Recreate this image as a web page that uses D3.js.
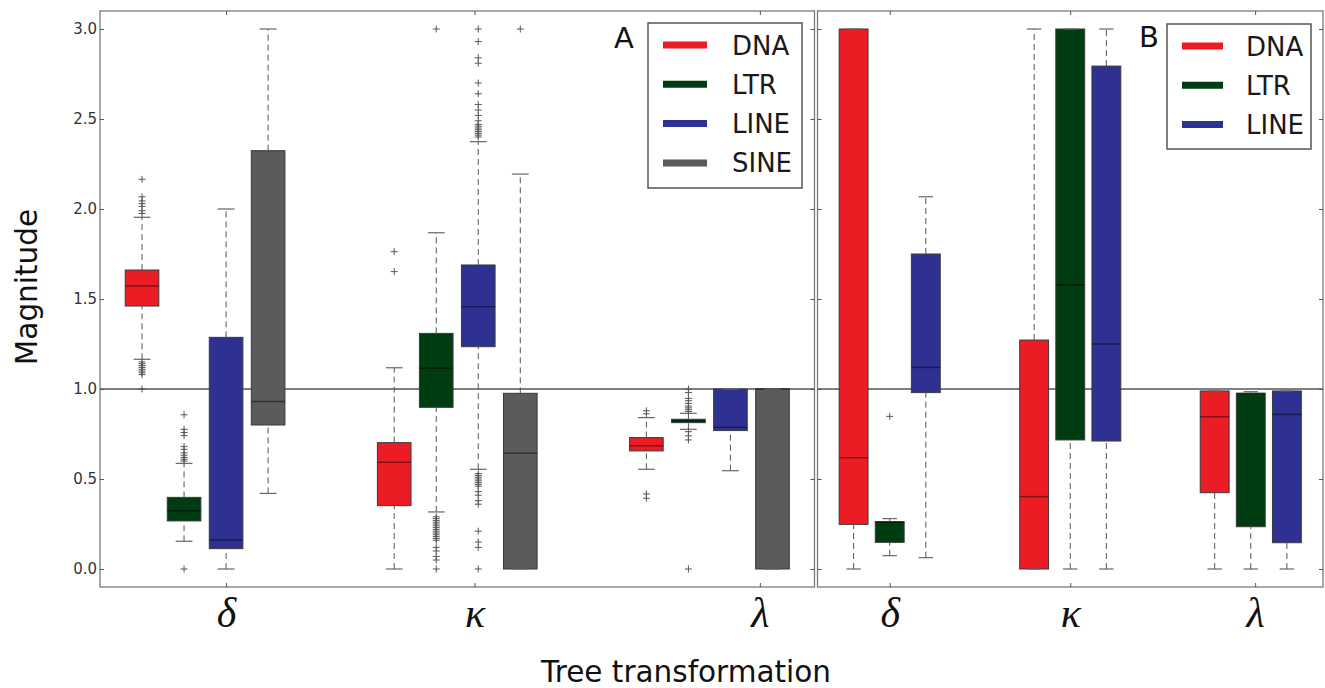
<!DOCTYPE html>
<html>
<head>
<meta charset="utf-8">
<script src="https://cdn.jsdelivr.net/npm/d3@7"></script>
<style>
  body { margin: 0; background: #fff; }
  svg { display: block; }
</style>
</head>
<body>
<svg id="chart" width="1325" height="688"></svg>
<script>
// categories
var transforms = ["δ", "κ", "λ"]
var seriesA = ["DNA", "LTR", "LINE", "SINE"]
var seriesB = ["DNA", "LTR", "LINE"]
var yTicks = [0, 0.5, 1, 1.5, 2, 2.5, 3]
var yTickLabels = ["0.0", "0.5", "1.0", "1.5", "2.0", "2.5", "3.0"]

// box positions (first box of each group) and tick positions
var groupStartA = [1, 7, 13]
var groupStartB = [1, 6, 11]
var tickPosA = [3, 8.91, 15.7]
var tickPosB = [2, 7, 12.12]

// panel A stats per transform: [lowWhisker, q1, median, q3, highWhisker]
var aDNA = [[1.165, 1.461, 1.572, 1.661, 1.954], [0, 0.352, 0.593, 0.702, 1.118], [0.554, 0.656, 0.685, 0.730, 0.841]]
var aLTR = [[0.154, 0.267, 0.324, 0.398, 0.587], [0.317, 0.898, 1.115, 1.309, 1.868], [0.776, 0.813, 0.822, 0.832, 0.865]]
var aLINE = [[0, 0.113, 0.161, 1.287, 2.0], [0.554, 1.235, 1.457, 1.689, 2.374], [0.546, 0.769, 0.787, 1.0, 1.0]]
var aSINE = [[0.42, 0.80, 0.93, 2.324, 3.0], [0, 0, 0.643, 0.976, 2.194], [0, 0, 1.0, 1.0, 1.0]]

// panel A outliers
var aDNAOut = [[2.165, 2.068, 2.045, 2.03, 2.015, 1.99, 1.975, 1.15, 1.14, 1.13, 1.12, 1.11, 1.10, 1.09, 1.08, 1.0],
               [1.763, 1.652],
               [0.879, 0.862, 0.417, 0.393]]
var aLTROut = [[0.857, 0.776, 0.758, 0.741, 0.68, 0.665, 0.645, 0.632, 0.62, 0.61, 0.60, 0],
               [3.0, 0.29, 0.28, 0.27, 0.26, 0.25, 0.24, 0.23, 0.22, 0.21, 0.20, 0.19, 0.18, 0.17, 0.16, 0.12, 0.10, 0.07, 0.05, 0.0],
               [1.0, 0.98, 0.948, 0.935, 0.92, 0.905, 0.895, 0.885, 0.875, 0.763, 0.74, 0.717, 0]]
var aLINEOut = [[],
                [3.0, 2.93, 2.84, 2.81, 2.70, 2.64, 2.58, 2.55, 2.52, 2.49, 2.47, 2.46, 2.45, 2.44, 2.43, 2.42, 2.41, 2.40,
                 0.53, 0.52, 0.51, 0.50, 0.49, 0.48, 0.47, 0.46, 0.43, 0.41, 0.38, 0.36, 0.21, 0.15, 0.12, 0],
                []]
var aSINEOut = [[], [3.0], []]

// panel B stats
var bDNA = [[0, 0.248, 0.618, 3.0, 3.0], [0, 0, 0.402, 1.272, 3.0], [0, 0.424, 0.846, 0.989, 0.989]]
var bLTR = [[0.074, 0.148, 0.26, 0.263, 0.28], [0, 0.717, 1.578, 3.0, 3.0], [0, 0.235, 0.976, 0.976, 0.985]]
var bLINE = [[0.063, 0.98, 1.12, 1.75, 2.068], [0, 0.711, 1.25, 2.794, 3.0], [0, 0.146, 0.859, 0.989, 0.989]]
var bDNAOut = [[], [], []]
var bLTROut = [[0.848], [], []]
var bLINEOut = [[], [], []]

var colors = {DNA: "#ec1c24", LTR: "#003c12", LINE: "#2e3192", SINE: "#5b5b5d"}

var svg = d3.select("#chart")

var yScale = d3.scaleLinear()
    .domain([-0.1, 3.1])
    .range([587, 11])

var panels = [
  {name: "A", left: 100, right: 814.5, domain: [0, 17], series: seriesA, starts: groupStartA, ticks: tickPosA,
   stats: [aDNA, aLTR, aLINE, aSINE], outs: [aDNAOut, aLTROut, aLINEOut, aSINEOut], labels: true,
   legend: {x: 648, y: 23, w: 154, h: 165}, letter: {x: 614, y: 48}},
  {name: "B", left: 817.5, right: 1323, domain: [0, 14], series: seriesB, starts: groupStartB, ticks: tickPosB,
   stats: [bDNA, bLTR, bLINE], outs: [bDNAOut, bLTROut, bLINEOut], labels: false,
   legend: {x: 1167, y: 24, w: 144, h: 125}, letter: {x: 1139, y: 47}}
]

panels.forEach(function(p){
  var xScale = d3.scaleLinear()
      .domain(p.domain)
      .range([p.left, p.right])
  var unit = xScale(1) - xScale(0)
  var boxW = 0.8 * unit
  var capW = 0.4 * unit

  var g = svg.append("g")

  // reference line at 1.0
  g.append("line")
    .attr("x1", p.left).attr("x2", p.right)
    .attr("y1", yScale(1)).attr("y2", yScale(1))
    .attr("stroke", "#555").attr("stroke-width", 1.5)

  p.series.forEach(function(s, si){
    var stats = p.stats[si]
    var outs = p.outs[si]
    stats.forEach(function(st, ti){
      var cx = xScale(p.starts[ti] + si)
      var bg = g.append("g")

      bg.append("rect")
        .attr("x", cx - boxW/2)
        .attr("y", yScale(st[3]))
        .attr("width", boxW)
        .attr("height", Math.max(yScale(st[1]) - yScale(st[3]), 1))
        .attr("fill", colors[s])
        .attr("stroke", "#3a3a3a")
        .attr("stroke-width", 1)

      bg.append("line")
        .attr("x1", cx - boxW/2).attr("x2", cx + boxW/2)
        .attr("y1", yScale(st[2])).attr("y2", yScale(st[2]))
        .attr("stroke", "#000").attr("stroke-opacity", 0.45).attr("stroke-width", 1.5)

      // whiskers
      bg.selectAll(".wh")
        .data([[st[0], st[1]], [st[3], st[4]]].filter(function(d){ return d[0] !== d[1] }))
        .enter()
        .append("line")
        .attr("x1", cx).attr("x2", cx)
        .attr("y1", function(d){ return yScale(d[0]) })
        .attr("y2", function(d){ return yScale(d[1]) })
        .attr("stroke", "#555").attr("stroke-width", 1)
        .attr("stroke-dasharray", "6,4")

      bg.selectAll(".cap")
        .data([st[0], st[4]])
        .enter()
        .append("line")
        .attr("x1", cx - capW/2).attr("x2", cx + capW/2)
        .attr("y1", function(d){ return yScale(d) })
        .attr("y2", function(d){ return yScale(d) })
        .attr("stroke", "#666").attr("stroke-width", 1.2)

      bg.selectAll(".out")
        .data(outs[ti])
        .enter()
        .append("path")
        .attr("d", function(d){
          var y = yScale(d)
          return "M" + (cx - 3.5) + "," + y + "H" + (cx + 3.5) + "M" + cx + "," + (y - 3.5) + "V" + (y + 3.5)
        })
        .attr("stroke", "#555").attr("stroke-width", 1)
    })
  })

  // frame
  g.append("rect")
    .attr("x", p.left).attr("y", yScale(3.1))
    .attr("width", p.right - p.left)
    .attr("height", yScale(-0.1) - yScale(3.1))
    .attr("fill", "none")
    .attr("stroke", "#7a7a7a").attr("stroke-width", 1.3)

  // y axes, ticks inward
  var yLeft = d3.axisLeft(yScale)
      .tickValues(yTicks)
      .tickSize(-4)
      .tickPadding(3)
      .tickFormat(function(d, i){ return p.labels ? yTickLabels[i] : "" })
  var ya = g.append("g")
      .attr("transform", "translate(" + p.left + ",0)")
      .call(yLeft)
  ya.select(".domain").remove()
  ya.selectAll("line").attr("stroke", "#555")
  ya.selectAll("text")
      .attr("font-family", "DejaVu Sans")
      .attr("font-size", 15)
      .attr("fill", "#333")

  var yRight = d3.axisRight(yScale).tickValues(yTicks).tickSize(-4).tickFormat("")
  var yr = g.append("g")
      .attr("transform", "translate(" + p.right + ",0)")
      .call(yRight)
  yr.select(".domain").remove()
  yr.selectAll("line").attr("stroke", "#555")

  // x axes, ticks inward top and bottom
  var xBottom = d3.axisBottom(xScale)
      .tickValues(p.ticks)
      .tickSize(-4)
      .tickPadding(10)
      .tickFormat(function(d, i){ return transforms[i] })
  var xb = g.append("g")
      .attr("transform", "translate(0," + yScale(-0.1) + ")")
      .call(xBottom)
  xb.select(".domain").remove()
  xb.selectAll("line").attr("stroke", "#555")
  xb.selectAll("text")
      .attr("font-family", "Liberation Serif")
      .attr("font-style", "italic")
      .attr("font-size", 42)
      .attr("fill", "#111")
      .attr("dy", "0.71em")

  var xTop = d3.axisTop(xScale).tickValues(p.ticks).tickSize(-4).tickFormat("")
  var xt = g.append("g")
      .attr("transform", "translate(0," + yScale(3.1) + ")")
      .call(xTop)
  xt.select(".domain").remove()
  xt.selectAll("line").attr("stroke", "#555")

  // panel letter
  g.append("text")
    .attr("x", p.letter.x).attr("y", p.letter.y)
    .attr("font-family", "DejaVu Sans")
    .attr("font-size", 29)
    .attr("fill", "#111")
    .text(p.name)

  // legend
  var lg = g.append("g")
  lg.append("rect")
    .attr("x", p.legend.x).attr("y", p.legend.y)
    .attr("width", p.legend.w).attr("height", p.legend.h)
    .attr("fill", "#fff")
    .attr("stroke", "#555").attr("stroke-width", 1.5)
  var items = lg.selectAll(".item")
    .data(p.series)
    .enter()
    .append("g")
    .attr("transform", function(d, i){
      return "translate(" + p.legend.x + "," + (p.legend.y + 22 + i * 39.3) + ")"
    })
  items.append("line")
    .attr("x1", 15).attr("x2", p.name === "A" ? 59 : 56)
    .attr("y1", 0).attr("y2", 0)
    .attr("stroke", function(d){ return colors[d] })
    .attr("stroke-width", 7)
  items.append("text")
    .attr("x", p.name === "A" ? 84 : 79)
    .attr("y", 9.5)
    .attr("font-family", "DejaVu Sans")
    .attr("font-size", 26)
    .attr("fill", "#1a1a1a")
    .text(function(d){ return d })
})

// axis titles
svg.append("text")
  .attr("x", 686).attr("y", 682)
  .attr("text-anchor", "middle")
  .attr("font-family", "DejaVu Sans")
  .attr("font-size", 29.5)
  .attr("fill", "#111")
  .text("Tree transformation")

svg.append("text")
  .attr("transform", "translate(37,287) rotate(-90)")
  .attr("text-anchor", "middle")
  .attr("font-family", "DejaVu Sans")
  .attr("font-size", 29.5)
  .attr("fill", "#111")
  .text("Magnitude")
</script>
</body>
</html>
